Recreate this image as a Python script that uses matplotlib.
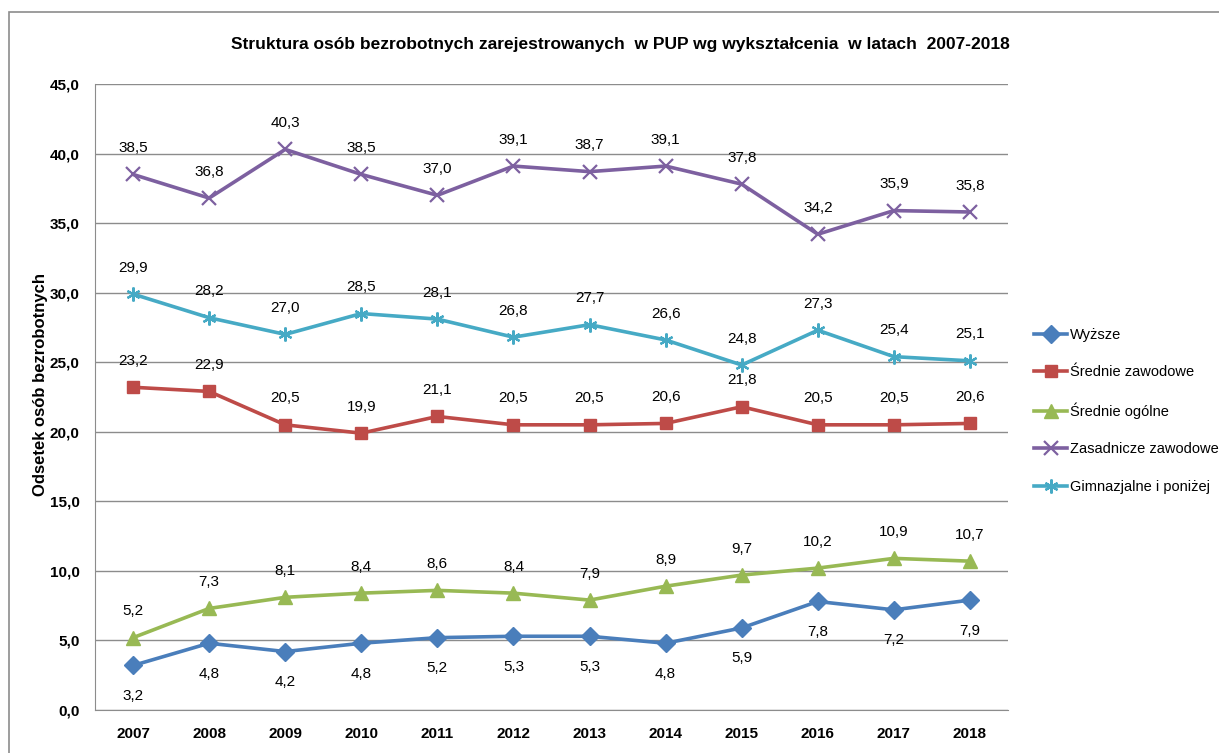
import matplotlib
matplotlib.use('Agg')
import matplotlib.pyplot as plt
from matplotlib.patches import Rectangle

plt.rcParams['font.family'] = ['Liberation Sans', 'DejaVu Sans']

years = ['2007', '2008', '2009', '2010', '2011', '2012', '2013', '2014', '2015', '2016', '2017', '2018']
wyzsze = [3.2, 4.8, 4.2, 4.8, 5.2, 5.3, 5.3, 4.8, 5.9, 7.8, 7.2, 7.9]
srednie_zaw = [23.2, 22.9, 20.5, 19.9, 21.1, 20.5, 20.5, 20.6, 21.8, 20.5, 20.5, 20.6]
srednie_ogol = [5.2, 7.3, 8.1, 8.4, 8.6, 8.4, 7.9, 8.9, 9.7, 10.2, 10.9, 10.7]
zasadnicze = [38.5, 36.8, 40.3, 38.5, 37.0, 39.1, 38.7, 39.1, 37.8, 34.2, 35.9, 35.8]
gimnazjalne = [29.9, 28.2, 27.0, 28.5, 28.1, 26.8, 27.7, 26.6, 24.8, 27.3, 25.4, 25.1]

# name, values, colour, marker, marker size, label side (1 above / -1 below)
series = [
    ('Wyższe', wyzsze, '#4A7EBB', 'D', 9, -1),
    ('Średnie zawodowe', srednie_zaw, '#BE4B48', 's', 9, 1),
    ('Średnie ogólne', srednie_ogol, '#98B954', '^', 10, 1),
    ('Zasadnicze zawodowe', zasadnicze, '#7D60A0', 'x', 10, 1),
    ('Gimnazjalne i poniżej', gimnazjalne, '#46AAC5', (6, 2, 0), 10, 1),
]

fig = plt.figure(figsize=(12.19, 7.53), dpi=100)
ax = fig.add_axes([95 / 1219, 1 - 710 / 753, (1008 - 95) / 1219, (710 - 84) / 753])

# gray frame round the chart area (goes past the right and bottom edges)
fig.patches.append(Rectangle((9 / 1219, -0.1), 1.2, 1 - 12 / 753 + 0.1,
                             transform=fig.transFigure, fill=False,
                             edgecolor='#8c8c8c', linewidth=1.2))

x = list(range(len(years)))
for name, vals, col, mk, ms, side in series:
    ax.plot(x, vals, color=col, marker=mk, markersize=ms, linewidth=2.6,
            markeredgewidth=1.6 if mk in ('x', (6, 2, 0)) else 1, label=name)
    for xi, v in zip(x, vals):
        ax.annotate(f'{v:.1f}'.replace('.', ','), (xi, v),
                    xytext=(0, 19 if side > 0 else -22), textcoords='offset points',
                    ha='center', va='center', fontsize=11)

ax.set_xlim(-0.5, 11.5)
ax.set_ylim(0, 45)
ax.set_yticks([i * 5 for i in range(10)])
ax.set_yticklabels([f'{i * 5:.1f}'.replace('.', ',') for i in range(10)], fontsize=11, fontweight='bold')
ax.set_xticks(x)
ax.set_xticklabels(years, fontsize=11, fontweight='bold')
ax.tick_params(axis='y', length=0, pad=11)
ax.tick_params(axis='x', length=0, pad=12)
ax.grid(axis='y', color='#8c8c8c', linewidth=1)
ax.set_axisbelow(True)
for s in ['top', 'right']:
    ax.spines[s].set_visible(False)
for s in ['left', 'bottom']:
    ax.spines[s].set_color('#8c8c8c')

ax.set_ylabel('Odsetek osób bezrobotnych', fontsize=12, fontweight='bold')
ax.yaxis.set_label_coords(-47 / 913, 0.52)
fig.text(620 / 1219, 1 - 45 / 753, 'Struktura osób bezrobotnych zarejestrowanych  w PUP wg wykształcenia  w latach  2007-2018',
         ha='center', va='center', fontsize=12.5, fontweight='bold')

fig.legend(loc='upper left', bbox_to_anchor=(1028 / 1219, 1 - 322 / 753), frameon=False,
           fontsize=10.5, handlelength=2.3, labelspacing=1.6, handletextpad=0.2,
           borderaxespad=0)

fig.savefig('out.png', dpi=100)
